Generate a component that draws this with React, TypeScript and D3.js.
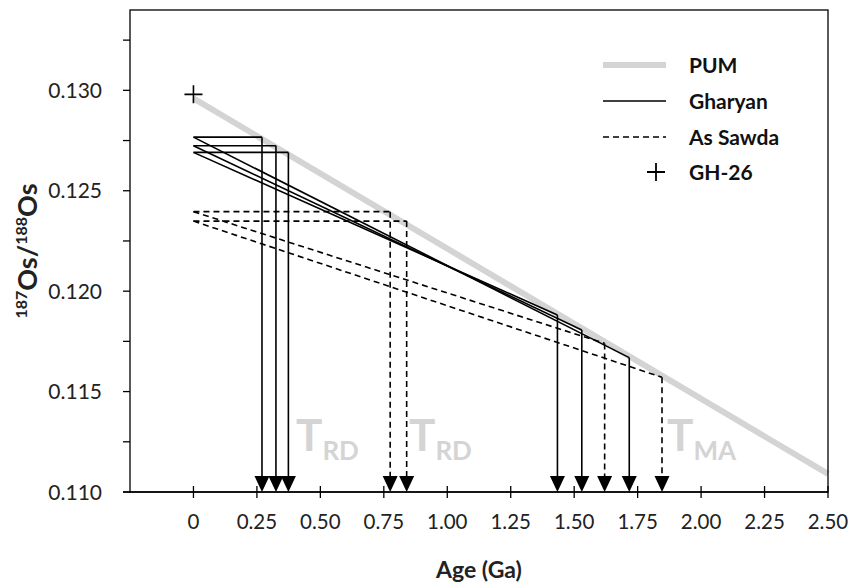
import React from "react";
import * as d3 from "d3";

// ---- data ----
const xTicks = [0, 0.25, 0.5, 0.75, 1.0, 1.25, 1.5, 1.75, 2.0, 2.25, 2.5];
const xTickLabels = ["0", "0.25", "0.50", "0.75", "1.00", "1.25", "1.50", "1.75", "2.00", "2.25", "2.50"];
const yTicks = [0.11, 0.1125, 0.115, 0.1175, 0.12, 0.1225, 0.125, 0.1275, 0.13, 0.1325];
const yTickLabels = ["0.110", "", "0.115", "", "0.120", "", "0.125", "", "0.130", ""];

const pumAge = [0, 2.5];
const pumRatio = [0.1296, 0.1109];

const gharyanRatio = [0.12767, 0.12724, 0.12691];
const gharyanTRD = [0.27, 0.325, 0.374];
const gharyanTMA = [1.717, 1.53, 1.434];
const gharyanTMARatio = [0.11669, 0.11807, 0.11881];

const asSawdaRatio = [0.12396, 0.12349];
const asSawdaTRD = [0.775, 0.84];
const asSawdaTMA = [1.62, 1.846];
const asSawdaTMARatio = [0.1174, 0.11571];

const gh26Age = [0];
const gh26Ratio = [0.1298];

const legendLabels = ["PUM", "Gharyan", "As Sawda", "GH-26"];

const FONT = "Lato, 'Open Sans', sans-serif";
const GRAY = "#d4d4d4";

export default function App() {
  const W = 853, H = 586;
  const left = 130, right = 828, top = 10, bottom = 492;
  const x = d3.scaleLinear().domain([-0.25, 2.5]).range([left, right]);
  const y = d3.scaleLinear().domain([0.11, 0.134]).range([bottom, top]);
  const line = d3.line<[number, number]>().x((d) => x(d[0])).y((d) => y(d[1]));

  const arrow = (xv: number) => {
    const px = x(xv);
    return `M${px - 7.5},${bottom - 16}L${px + 7.5},${bottom - 16}L${px},${bottom}Z`;
  };

  const sample = (ratio: number, trd: number, tma: number, tmaR: number, dash: string | undefined, key: string) => (
    <g key={key} stroke="#000" strokeWidth={1.6} fill="none" strokeDasharray={dash}>
      <path d={line([[0, ratio], [trd, ratio]]) || ""} />
      <line x1={x(trd)} x2={x(trd)} y1={y(ratio)} y2={bottom - 14} />
      <path d={line([[0, ratio], [tma, tmaR]]) || ""} />
      <line x1={x(tma)} x2={x(tma)} y1={y(tmaR)} y2={bottom - 14} />
      <path d={arrow(trd)} fill="#000" stroke="none" />
      <path d={arrow(tma)} fill="#000" stroke="none" />
    </g>
  );

  const pumData: [number, number][] = pumAge.map((a, i) => [a, pumRatio[i]]);

  return (
    <svg width={W} height={H} style={{ position: "absolute", left: 0, top: 0 }} fontFamily={FONT}>
      <rect x={0} y={0} width={W} height={H} fill="#fff" />
      {/* PUM */}
      <path d={line(pumData) || ""} stroke={GRAY} strokeWidth={6} fill="none" />

      {/* T labels */}
      <g fill={GRAY} fontWeight="bold">
        <text x={296} y={451} fontSize={44}>T<tspan fontSize={26} dy={9}>RD</tspan></text>
        <text x={409} y={451} fontSize={44}>T<tspan fontSize={26} dy={9}>RD</tspan></text>
        <text x={667} y={451} fontSize={44}>T<tspan fontSize={26} dy={9}>MA</tspan></text>
      </g>

      {gharyanRatio.map((r, i) => sample(r, gharyanTRD[i], gharyanTMA[i], gharyanTMARatio[i], undefined, "g" + i))}
      {asSawdaRatio.map((r, i) => sample(r, asSawdaTRD[i], asSawdaTMA[i], asSawdaTMARatio[i], "6,4", "s" + i))}

      {gh26Age.map((a, i) => (
        <path key={i} d={`M${x(a) - 9},${y(gh26Ratio[i])}h18M${x(a)},${y(gh26Ratio[i]) - 9}v18`} stroke="#000" strokeWidth={1.6} />
      ))}

      {/* frame */}
      <rect x={left} y={top} width={right - left} height={bottom - top} fill="none" stroke="#000" strokeWidth={1.3} />
      <line x1={left - 7} x2={right} y1={bottom} y2={bottom} stroke="#000" strokeWidth={1.3} />

      {/* y ticks */}
      {yTicks.map((t, i) => (
        <g key={"yt" + i}>
          <line x1={left - 7} x2={left} y1={y(t)} y2={y(t)} stroke="#000" strokeWidth={1.3} />
          {yTickLabels[i] && (
            <text x={102} y={y(t) + 7.5} textAnchor="end" fontSize={21} fill="#222">{yTickLabels[i]}</text>
          )}
        </g>
      ))}
      {/* x ticks */}
      {xTicks.map((t, i) => (
        <g key={"xt" + i}>
          <line x1={x(t)} x2={x(t)} y1={bottom - 6} y2={bottom + 6} stroke="#000" strokeWidth={1.3} />
          <text x={x(t)} y={529} textAnchor="middle" fontSize={20.5} fill="#222">{xTickLabels[i]}</text>
        </g>
      ))}

      {/* axis titles */}
      <text x={(left + right) / 2} y={578} textAnchor="middle" fontSize={23} fontWeight="bold" fill="#222">Age (Ga)</text>
      <text transform={`translate(37,${(top + bottom) / 2}) rotate(-90)`} textAnchor="middle" fontWeight="bold" fill="#222" fontSize={27}>
        <tspan fontSize={16} dy={-10}>187</tspan>
        <tspan dy={10}>Os/</tspan>
        <tspan fontSize={16} dy={-10}>188</tspan>
        <tspan dy={10}>Os</tspan>
      </text>

      {/* legend */}
      <g fontWeight="bold" fontSize={21} fill="#111">
        <line x1={603} x2={666} y1={65} y2={65} stroke={GRAY} strokeWidth={6} />
        <text x={689} y={72.5}>{legendLabels[0]}</text>
        <line x1={603} x2={666} y1={101} y2={101} stroke="#000" strokeWidth={1.6} />
        <text x={689} y={108.5}>{legendLabels[1]}</text>
        <line x1={603} x2={666} y1={137} y2={137} stroke="#000" strokeWidth={1.6} strokeDasharray="6,4" />
        <text x={689} y={144.5}>{legendLabels[2]}</text>
        <path d={`M647,172h18M656,163v18`} stroke="#000" strokeWidth={1.8} />
        <text x={689} y={179.5}>{legendLabels[3]}</text>
      </g>
    </svg>
  );
}
